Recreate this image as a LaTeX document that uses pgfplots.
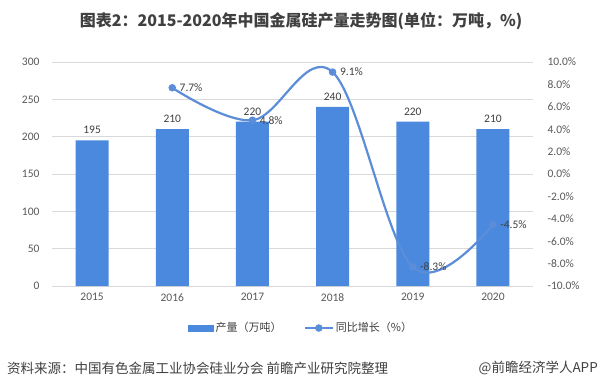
\documentclass[border=0pt]{standalone}
\usepackage{pgfplots}
\pgfplotsset{compat=1.18}
\usepackage{fontspec}
\setmainfont{Carlito}
\newfontfamily\cjk{Noto Sans CJK SC}
\definecolor{barblue}{RGB}{74,137,222}
\definecolor{lineblue}{RGB}{92,141,216}
\definecolor{txt}{RGB}{64,64,64}
\definecolor{tick}{RGB}{89,89,89}
\definecolor{gridc}{RGB}{217,217,217}
\begin{document}
\begin{tikzpicture}
\path[use as bounding box, fill=white] (0pt,0pt) rectangle (602pt,389pt);
\begin{axis}[at={(52pt,103pt)}, anchor=south west, scale only axis,
  width=481pt, height=224pt,
  xmin=-0.5, xmax=5.5, ymin=0, ymax=300,
  ytick={0,50,...,300},
  xtick={0,...,5}, xticklabels={2015,2016,2017,2018,2019,2020},
  axis x line*=bottom, axis y line*=left,
  x axis line style={draw=gridc},
  y axis line style={draw=none},
  major tick length=0pt,
  ymajorgrids, grid style={draw=gridc, line width=0.8pt},
  /pgf/number format/assume math mode=true,
  tick label style={font=\fontsize{11.5}{12}\selectfont, text=tick},
  yticklabel style={xshift=-9pt},
  xticklabel style={yshift=-4pt},
  ybar, bar width=33pt,
  nodes near coords,
  nodes near coords style={font=\fontsize{11.5}{12}\selectfont, text=txt, yshift=3pt},
]
\addplot[fill=barblue, draw=none] coordinates {(0,195) (1,210) (2,220) (3,240) (4,220) (5,210)};
\end{axis}
\begin{axis}[at={(52pt,103pt)}, anchor=south west, scale only axis,
  width=481pt, height=224pt,
  xmin=-0.5, xmax=5.5, ymin=-10, ymax=10,
  axis x line=none, axis y line*=right,
  y axis line style={draw=none},
  major tick length=0pt,
  ytick={-10,-8,...,10},
  yticklabels={-10.0\%,-8.0\%,-6.0\%,-4.0\%,-2.0\%,0.0\%,2.0\%,4.0\%,6.0\%,8.0\%,10.0\%},
  tick label style={font=\fontsize{11.5}{12}\selectfont, text=tick},
  yticklabel style={anchor=west, xshift=11pt},
  legend style={at={(0.518,-0.1875)}, anchor=center, draw=none, fill=none,
    legend columns=2, font=\cjk\fontsize{11}{11}\selectfont, text=txt,
    /tikz/every even column/.append style={column sep=20pt}},
]
\addlegendimage{legend image code/.code={\fill[barblue] (0pt,-3pt) rectangle (25pt,3pt);}}
\addlegendentry{产量（万吨）}
\addplot[lineblue, line width=2.2pt, smooth, tension=0.6,
  mark=*, mark size=2.6pt, mark options={fill=lineblue, draw=lineblue},
  point meta=explicit symbolic, nodes near coords,
  nodes near coords style={font=\fontsize{11.5}{12}\selectfont, text=txt, anchor=west, xshift=3pt},
  legend image code/.code={\draw[lineblue,line width=2.2pt] (0pt,0pt)--(28pt,0pt); \fill[lineblue] (14pt,0pt) circle (2.6pt);}]
  coordinates {(1,7.7) [7.7\%] (2,4.8) [4.8\%] (3,9.1) [9.1\%] (4,-8.3) [-8.3\%] (5,-4.5) [-4.5\%]};
\addlegendentry{同比增长（\%）}
\end{axis}
\node[font=\cjk\bfseries\fontsize{16}{16}\selectfont, text=txt] at (301pt,368pt) {图表2：2015-2020年中国金属硅产量走势图(单位：万吨，\%)};
\node[font=\cjk\fontsize{13.5}{13.5}\selectfont, text=txt, anchor=west, inner sep=0pt] at (7pt,21pt) {资料来源：中国有色金属工业协会硅业分会 前瞻产业研究院整理};
\node[font=\cjk\fontsize{13.5}{13.5}\selectfont, text=txt, anchor=east, inner sep=0pt] at (598pt,21pt) {@前瞻经济学人APP};
\end{tikzpicture}
\end{document}
